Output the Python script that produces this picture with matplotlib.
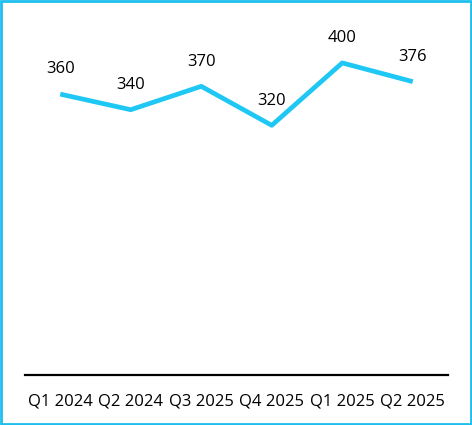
import matplotlib
matplotlib.use("Agg")
import matplotlib.pyplot as plt
from matplotlib.patches import Rectangle

quarters = ["Q1 2024", "Q2 2024", "Q3 2025", "Q4 2025", "Q1 2025", "Q2 2025"]
values = [360, 340, 370, 320, 400, 376]

LINE_COLOR = "#1FC8F4"
BORDER_COLOR = "#1EBEEE"

plt.rcParams["font.family"] = ["Open Sans", "DejaVu Sans"]

fig = plt.figure(figsize=(4.72, 4.25), dpi=100)
ax = fig.add_axes([25 / 472, 50 / 425, 423 / 472, 355 / 425])

x = list(range(len(quarters)))
ax.plot(x, values, color=LINE_COLOR, linewidth=3.4, solid_capstyle="butt")

for xi, v in zip(x, values):
    ax.annotate(str(v), (xi, v), xytext=(0, 12), textcoords="offset points",
                ha="center", va="bottom", fontsize=12, color="#000000")

ax.set_xlim(-0.5, len(quarters) - 0.5)
ax.set_ylim(0, 455)
ax.set_xticks(x)
ax.set_xticklabels(quarters, fontsize=12)
ax.tick_params(axis="x", length=0, pad=13)
ax.set_yticks([])
for side in ["top", "right", "left"]:
    ax.spines[side].set_visible(False)
ax.spines["bottom"].set_linewidth(1.6)
ax.spines["bottom"].set_color("#000000")

fig.patches.append(Rectangle((1 / 472, 1 / 425), 470 / 472, 423 / 425,
                             transform=fig.transFigure, fill=False,
                             edgecolor=BORDER_COLOR, linewidth=2))

fig.savefig("out.png", dpi=100)
